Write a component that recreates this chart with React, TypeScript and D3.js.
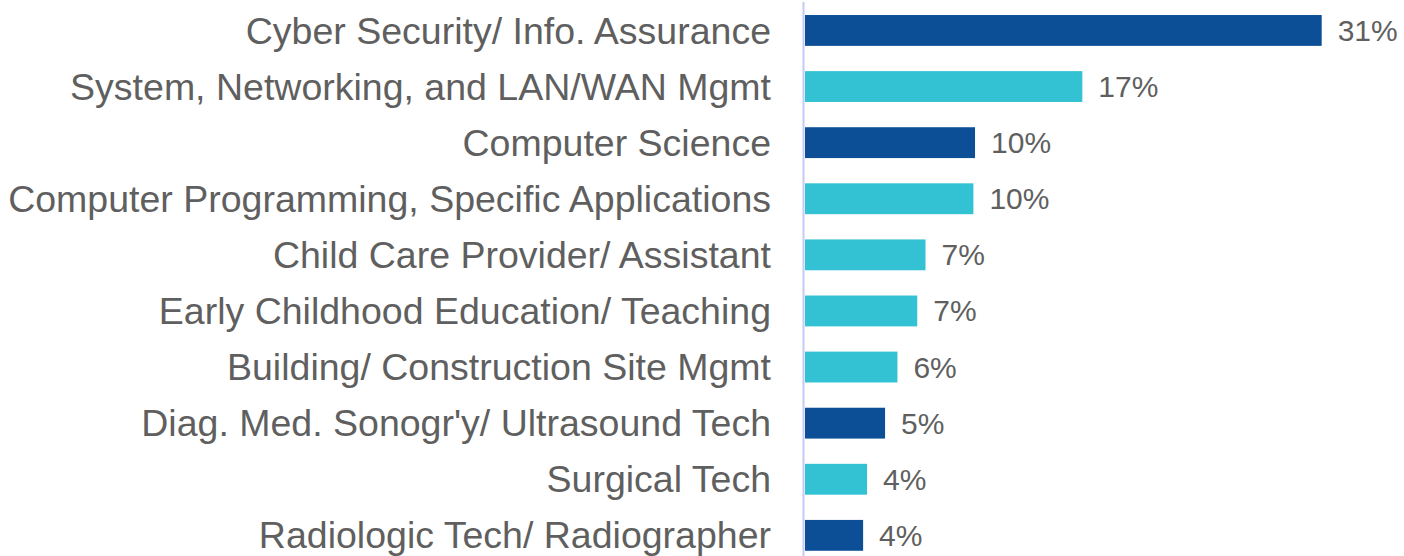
import React from "react";
import * as d3 from "d3";

const categories = [
  "Cyber Security/ Info. Assurance",
  "System, Networking, and LAN/WAN Mgmt",
  "Computer Science",
  "Computer Programming, Specific Applications",
  "Child Care Provider/ Assistant",
  "Early Childhood Education/ Teaching",
  "Building/ Construction Site Mgmt",
  "Diag. Med. Sonogr'y/ Ultrasound Tech",
  "Surgical Tech",
  "Radiologic Tech/ Radiographer",
];
const values = [0.313, 0.168, 0.103, 0.102, 0.073, 0.068, 0.056, 0.0485, 0.0376, 0.0352];
const groups = ["dark", "light", "dark", "light", "light", "light", "light", "dark", "light", "dark"];

const W = 1404;
const H = 556;
const colors: Record<string, string> = { dark: "#0c4f96", light: "#33c1d4" };

export default function App() {
  const x = d3.scaleLinear().domain([0, 0.313]).range([805, 1321.7]);
  const y = d3
    .scaleBand<string>()
    .domain(categories)
    .range([2.4, 563.4])
    .paddingInner(0.45)
    .paddingOuter(0.225);
  const fmt = d3.format(".0%");
  const font = "'Liberation Sans', Arial, Helvetica, sans-serif";
  return (
    <svg
      width={W}
      height={H}
      style={{ position: "absolute", left: 0, top: 0, display: "block", background: "#fff" }}
      fontFamily={font}
    >
      {categories.map((c, i) => {
        const yc = (y(c) as number) + y.bandwidth() / 2;
        return (
          <g key={c}>
            <rect
              x={x(0)}
              y={y(c)}
              width={x(values[i]) - x(0)}
              height={y.bandwidth()}
              fill={colors[groups[i]]}
            />
            <text x={771} y={yc} dy="0.35em" textAnchor="end" fontSize={37.5} fill="#5f5f5f">
              {c}
            </text>
            <text x={x(values[i]) + 16} y={yc} dy="0.35em" fontSize={30} fill="#5f5f5f">
              {fmt(values[i])}
            </text>
          </g>
        );
      })}
      <line x1={803.5} x2={803.5} y1={2} y2={H} stroke="#c5c9f5" strokeWidth={2} />
    </svg>
  );
}
